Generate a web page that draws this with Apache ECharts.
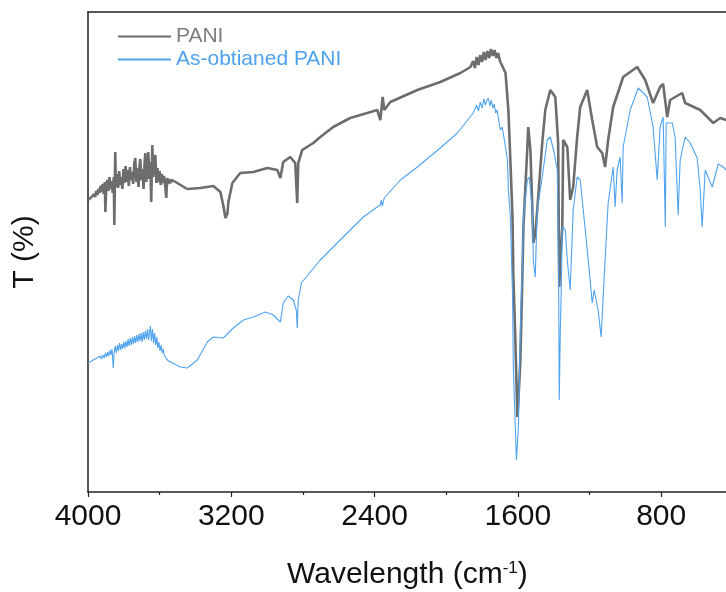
<!DOCTYPE html>
<html>
<head>
<meta charset="utf-8">
<script src="https://cdn.jsdelivr.net/npm/echarts@6/dist/echarts.min.js"></script>
<style>html,body{margin:0;padding:0;background:#fff;}#c{width:726px;height:592px;}</style>
</head>
<body>
<div id="c"></div>
<script>
// Wavenumber (cm-1) and transmittance (arbitrary %)
var seriesNames = ['PANI', 'As-obtianed PANI'];
var xTicks = [4000, 3200, 2400, 1600, 800];
var xMinorTicks = [3600, 2800, 2000, 1200];

var paniWn = [4000,3990,3980,3972,3966,3960,3954,3948,3942,3936,3930,3924,3918,3912,3906,3903,3898,3892,3886,3880,3874,3868,3862,3856,3853,3850,3848,3844,3838,3832,3826,3820,3814,3808,3802,3796,3790,3784,3778,3772,3766,3760,3754,3748,3742,3736,3730,3724,3718,3712,3708,3702,3696,3690,3684,3680,3674,3669,3663,3658,3652,3647,3641,3636,3630,3624,3618,3612,3606,3600,3594,3588,3582,3576,3570,3563,3558,3552,3546,3540,3530,3524,
3446,3373,3300,3261,3245,3233,3222,3216,3194,3150,3077,2999,2943,2926,2910,2871,2843,2832,2826,2804,2742,2703,2631,2536,2441,2385,2368,2357,2355,2346,2312,2161,2033,1921,1865,1850,1840,1830,1820,1810,1800,1790,1780,1770,1760,1750,1740,1730,1720,1710,1700,1690,1669,1653,1642,1630,1625,1614,1603,1597,1586,1575,1569,1547,1542,1530,1519,1514,1503,1492,1464,1447,1419,1391,1375,1369,1363,1352,1347,1324,1308,1291,1269,1252,1213,1185,1157,1129,1113,1096,1068,1012,934,889,845,806,789,766,750,683,666,582,509,470,437,420];
var paniT = [58.4,58.6,59.0,58.8,59.6,59.0,60.2,59.4,60.6,59.8,61.2,60.0,61.6,59.6,62.0,56.0,61.0,62.4,60.2,63.0,60.6,62.2,59.8,63.0,53.4,62.0,68.0,61.0,63.6,60.8,64.2,61.4,63.0,60.6,64.6,61.8,65.2,62.0,64.4,61.2,65.0,62.4,64.0,61.6,65.6,66.8,62.0,64.8,61.0,65.4,66.6,62.4,64.6,60.6,65.8,67.8,62.0,65.0,68.0,62.6,66.0,58.0,69.4,63.0,65.4,67.4,61.8,64.8,62.0,64.2,61.4,63.6,61.8,63.2,61.6,58.8,62.8,61.6,62.6,61.8,62.4,62.0,
60.6,60.8,61.2,60.0,57.4,54.8,55.6,58,61.8,63.8,64,64.8,64.4,62.8,66,67,65.8,57.8,65.8,68.4,69.8,71,73,74.8,75.8,76.4,74.4,74,79,76.4,78,80.4,82,83.8,85,86.2,84.8,87,85.4,87.4,86,88,86.4,88.2,86.8,88.6,87.2,88.4,86.8,87.8,86.2,86.6,83.8,76.4,66.4,55,43,30.4,15,18.4,26.4,43,53,69,73,68.4,56.4,49.8,51.4,56.4,69.8,76.4,80.4,79,69.8,41,46.4,53,70.4,69,58.4,61,71,77,80.4,74.4,69,67.8,65,70.4,77,83,85,82.4,77.8,81,81.6,75,78.4,79.8,77.8,76.4,73.8,74.8,74.4,74.6];

var asobWn = [4000,3990,3980,3970,3962,3955,3948,3940,3932,3925,3918,3910,3903,3896,3890,3884,3878,3872,3866,3859,3854,3848,3842,3836,3830,3824,3818,3812,3806,3800,3794,3788,3782,3776,3770,3764,3758,3752,3746,3740,3734,3728,3722,3716,3710,3704,3698,3692,3686,3680,3674,3668,3662,3656,3652,3646,3640,3634,3628,3622,3616,3610,3604,3598,3592,3586,3580,3574,3568,3562,3557,3550,
3485,3446,3390,3334,3300,3245,3189,3133,3077,3010,2966,2926,2910,2882,2854,2837,2832,2826,2809,2703,2592,2463,2385,2368,2363,2357,2346,2256,2161,2033,1938,1849,1830,1820,1810,1800,1790,1782,1774,1765,1756,1748,1740,1732,1724,1716,1708,1698,1687,1658,1653,1642,1630,1625,1608,1597,1586,1575,1569,1547,1536,1519,1514,1503,1492,1464,1436,1419,1397,1380,1372,1369,1363,1358,1352,1335,1324,1308,1291,1269,1252,1235,1207,1185,1174,1152,1135,1118,1096,1068,1057,1046,1029,1018,1012,973,928,878,845,822,806,789,783,777,772,738,722,705,694,666,638,599,582,571,554,515,481,453,437,420];
var asobT = [25.8,26.0,26.2,26.0,26.6,26.2,26.8,26.4,27.2,26.6,27.4,26.8,27.8,27.0,28.0,27.2,28.4,27.4,28.6,24.8,28.0,29.2,27.8,29.4,28.2,29.8,28.4,29.6,28.6,30.0,28.8,30.2,29.0,30.6,29.2,30.8,29.4,31.0,29.6,31.2,29.8,31.4,30.0,31.6,30.2,31.8,30.0,32.0,30.4,32.2,30.6,32.6,30.4,32.0,33.2,30.2,32.6,29.8,31.8,29.4,31.0,28.8,30.0,28.2,29.4,27.8,28.6,27.4,27.8,26.6,27.0,26.2,
25,24.8,26.4,30,31,30.8,32.8,34.4,35,36,35.4,34,37.8,39.2,38.4,36.4,32.8,38.4,41.8,46.4,50.4,55,57,57.4,58.4,57.2,58.8,62.4,65,68.8,71.8,75.8,77.4,76.2,78,76.8,78.6,77.4,78.2,78.8,77.2,78.4,76.8,77.6,75.8,76.4,74.6,72.4,73,66.4,60.4,55,39.8,24.4,6.4,13,33,45,55,62.4,63,56.4,46.4,43,56.4,63,70.4,71,67.8,64.4,39.8,18.4,32.4,39.8,53,52.4,46.4,40.4,56.4,63,62.4,56.4,46.4,37.8,40.4,36.4,31,43,57.8,65,57,64.4,67,57.8,69,76.4,80.8,79,73,62.4,73,75,64.4,53,73.8,73.8,71,55.4,66.4,71,69.8,66.8,60.4,53,64.4,61,65.6,65,64.4,64];

function pairs(wn, t) { return wn.map(function (w, i) { return [w, t[i]]; }); }

var grayColor = '#6d6d6d';
var blueColor = '#4fa3ee';
var axisColor = '#222';
var X_MIN = 438, X_MAX = 4000;
var chart = echarts.init(document.getElementById('c'), null, { renderer: 'canvas' });
chart.setOption({
  animation: false,
  backgroundColor: '#fff',
  textStyle: { fontFamily: 'Liberation Sans' },
  grid: { left: 88, top: 12, bottom: 100, right: 0, show: false },
  title: {
    text: 'Wavelength (cm{sup|-1})',
    left: 282, top: 555,
    textStyle: {
      fontFamily: 'Liberation Sans', fontSize: 30, fontWeight: 'normal', color: '#111',
      rich: { sup: { fontSize: 17, verticalAlign: 'top', fontFamily: 'Liberation Sans', color: '#111' } }
    }
  },
  legend: {
    left: 113, top: 20, orient: 'vertical', itemWidth: 53, itemHeight: 2, itemGap: 0,
    textStyle: { fontSize: 21, lineHeight: 23, fontFamily: 'Liberation Sans' },
    data: [
      { name: seriesNames[0], icon: 'rect', itemStyle: { color: grayColor }, textStyle: { color: '#7d7d7d' } },
      { name: seriesNames[1], icon: 'rect', itemStyle: { color: blueColor }, textStyle: { color: blueColor } }
    ]
  },
  xAxis: [
    {
      type: 'value', min: X_MIN, max: X_MAX, inverse: true, position: 'bottom',
      axisLine: { show: true, onZero: false, lineStyle: { color: axisColor, width: 1.5 } },
      axisTick: { show: true, inside: false, length: 5, customValues: xTicks, lineStyle: { color: axisColor, width: 1.2 } },
      splitLine: { show: false },
      axisLabel: { fontSize: 30, color: '#111', margin: 10, fontFamily: 'Liberation Sans', customValues: xTicks,
        formatter: function (v) { return String(v); } }
    },
    {
      type: 'value', min: X_MIN, max: X_MAX, inverse: true, position: 'bottom',
      axisLine: { show: false, onZero: false },
      axisTick: { show: true, inside: false, length: 3, customValues: xMinorTicks, lineStyle: { color: axisColor, width: 1.2 } },
      splitLine: { show: false }, axisLabel: { show: false }
    },
    {
      type: 'value', min: X_MIN, max: X_MAX, inverse: true, position: 'top',
      axisLine: { show: true, onZero: false, lineStyle: { color: axisColor, width: 1.5 } },
      axisTick: { show: false }, splitLine: { show: false }, axisLabel: { show: false }
    }
  ],
  yAxis: {
    type: 'value', min: 0, max: 96,
    name: 'T (%)', nameLocation: 'middle', nameGap: 48, nameRotate: 90,
    nameTextStyle: { fontSize: 30, color: '#111', fontFamily: 'Liberation Sans' },
    axisLine: { show: true, onZero: false, lineStyle: { color: axisColor, width: 1.5 } },
    axisTick: { show: false }, axisLabel: { show: false }, splitLine: { show: false }
  },
  series: [
    { name: seriesNames[0], type: 'line', symbol: 'none', data: pairs(paniWn, paniT), clip: true,
      lineStyle: { color: grayColor, width: 2.6 }, itemStyle: { color: grayColor }, z: 2 },
    { name: seriesNames[1], type: 'line', symbol: 'none', data: pairs(asobWn, asobT), clip: true,
      lineStyle: { color: blueColor, width: 1.1 }, itemStyle: { color: blueColor }, z: 3 }
  ]
});
</script>
</body>
</html>
